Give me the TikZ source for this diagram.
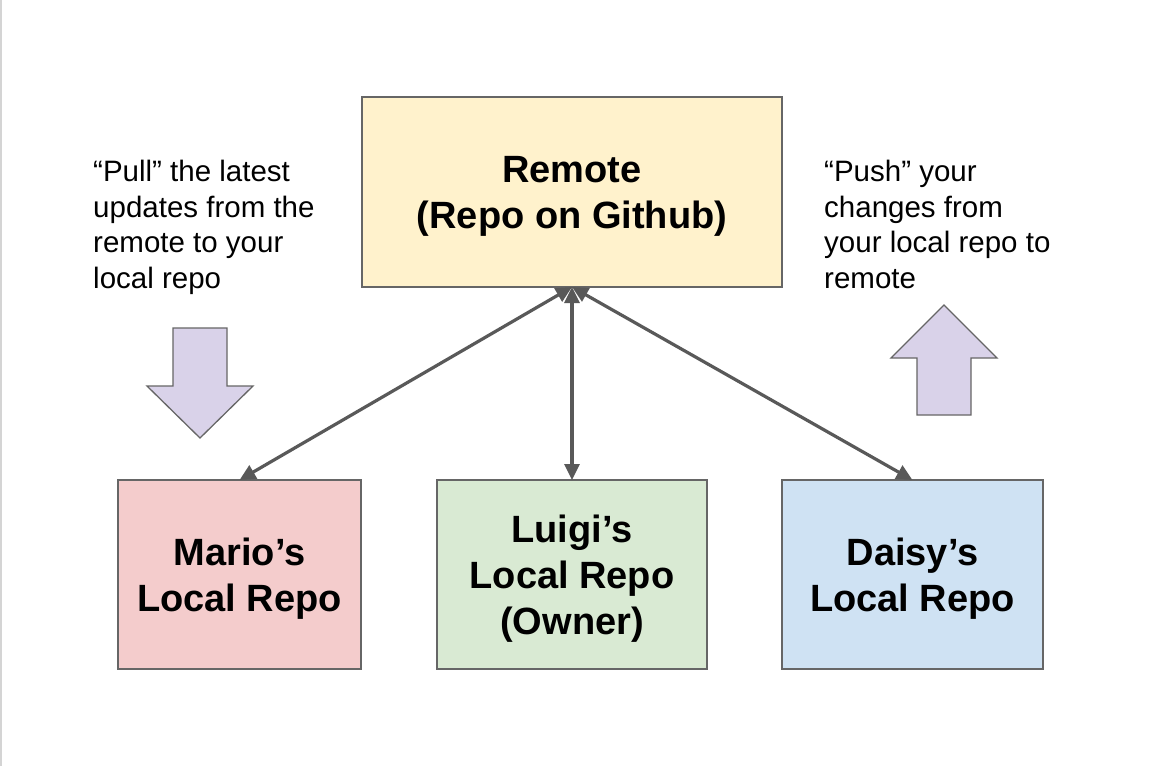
\documentclass[tikz,border=0pt]{standalone}
\usepackage{fontspec}
\setmainfont{Liberation Sans}
\usetikzlibrary{positioning, arrows.meta}
\definecolor{remotefill}{HTML}{FFF2CC}
\definecolor{mariofill}{HTML}{F4CCCC}
\definecolor{luigifill}{HTML}{D9EAD3}
\definecolor{daisyfill}{HTML}{CFE2F3}
\definecolor{blockfill}{HTML}{D9D2E9}
\definecolor{boxline}{HTML}{666666}
\definecolor{linkgray}{HTML}{595959}
\definecolor{edgegray}{HTML}{D4D4D4}

\begin{document}
\begin{tikzpicture}[x=1pt, y=-1pt, node distance=76pt,
  box/.style={draw=boxline, line width=1.2pt, outer sep=0pt, minimum height=189pt,
    align=center, text depth=0pt, font=\fontsize{38}{46}\selectfont\bfseries},
  note/.style={anchor=north west, align=left, inner sep=0pt,
    font=\fontsize{29.5}{35.5}\selectfont},
  link/.style={draw=linkgray, line width=3.2pt,
    {Triangle[length=16pt,width=15pt]}-{Triangle[length=16pt,width=15pt]}},
  blockarrow/.style={fill=blockfill, draw=boxline, line width=1.3pt}]
  \useasboundingbox (0,0) rectangle (1162,766);
  \fill[edgegray] (0,0) rectangle (2,766);

  \node[box, fill=remotefill, minimum width=420pt, minimum height=190pt] (remote) at (572,192)
    {Remote\\(Repo on Github)};
  \node[box, fill=luigifill, minimum width=270pt, below=193pt of remote] (luigi)
    {Luigi’s\\Local Repo\\(Owner)};
  \node[box, fill=mariofill, minimum width=243pt, left=of luigi] (mario)
    {Mario’s\\Local Repo};
  \node[box, fill=daisyfill, minimum width=261pt, right=75pt of luigi] (daisy)
    {Daisy’s\\Local Repo};

  \draw[link] (remote.south) -- (mario.north);
  \draw[link] (remote.south) -- (luigi.north);
  \draw[link] (remote.south) -- (daisy.north);

  \node[note] (pullnote) at (93,160)
    {“Pull” the latest\\updates from the\\remote to your\\local repo};
  \node[note] (pushnote) at (824,160)
    {“Push” your\\changes from\\your local repo to\\remote};

  % block arrows
  \draw[blockarrow] (173,328) -- (227,328) -- (227,386) -- (253,386) -- (200,438)
    -- (147,386) -- (173,386) -- cycle;
  \draw[blockarrow] (917,415) -- (971,415) -- (971,358) -- (997,358) -- (944,305)
    -- (891,358) -- (917,358) -- cycle;
\end{tikzpicture}
\end{document}
